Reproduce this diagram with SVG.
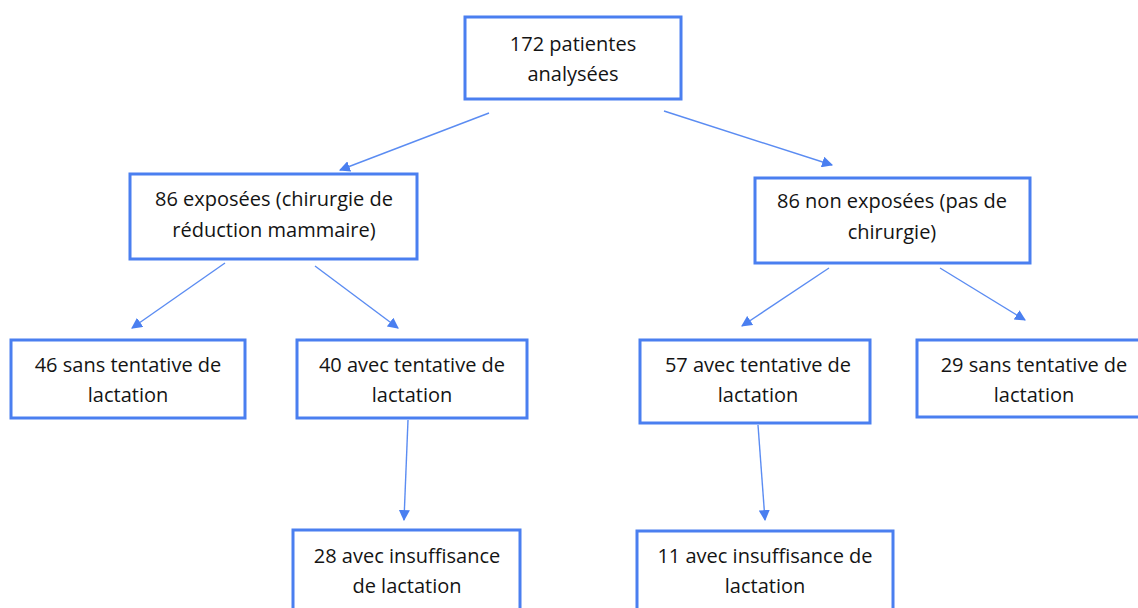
<svg xmlns="http://www.w3.org/2000/svg" width="1138" height="608" viewBox="0 0 1138 608">
<style>
.box{fill:#fff;stroke:#4a7ff0;stroke-width:3}
.t{font-family:"Open Sans","Liberation Sans",sans-serif;font-size:20px;fill:#141414;text-anchor:middle}
.c{stroke:#5b8cf2;stroke-width:1.4;fill:none;marker-end:url(#ah)}
</style>
<defs>
<marker id="ah" viewBox="0 0 10 10" refX="9" refY="5" markerWidth="11" markerHeight="11" markerUnits="userSpaceOnUse" orient="auto">
<path d="M0,0 L10,5 L0,10 z" fill="#4a7ff0"/>
</marker>
</defs>
<rect width="1138" height="608" fill="#fff"/>
<g id="connectors">
<line class="c" x1="489" y1="113" x2="340" y2="170"/>
<line class="c" x1="664" y1="111" x2="832" y2="165"/>
<line class="c" x1="225" y1="263" x2="132" y2="328"/>
<line class="c" x1="315" y1="266" x2="398" y2="328"/>
<line class="c" x1="829" y1="268" x2="742" y2="326"/>
<line class="c" x1="940" y1="268" x2="1025" y2="320"/>
<line class="c" x1="408" y1="420" x2="404" y2="520"/>
<line class="c" x1="758" y1="425" x2="765" y2="520"/>
</g>
<g id="n-total"><rect class="box" x="465" y="17" width="216" height="82"/><text class="t" x="573" y="51">172 patientes</text><text class="t" x="573" y="81">analysées</text></g>
<g id="n-exp"><rect class="box" x="130" y="174" width="287" height="85"/><text class="t" x="274" y="206">86 exposées (chirurgie de</text><text class="t" x="274" y="237">réduction mammaire)</text></g>
<g id="n-nonexp"><rect class="box" x="755" y="178" width="275" height="85"/><text class="t" x="892" y="208">86 non exposées (pas de</text><text class="t" x="892" y="239">chirurgie)</text></g>
<g id="n-46"><rect class="box" x="11" y="340" width="234" height="78"/><text class="t" x="128" y="372">46 sans tentative de</text><text class="t" x="128" y="402">lactation</text></g>
<g id="n-40"><rect class="box" x="297" y="340" width="230" height="78"/><text class="t" x="412" y="372">40 avec tentative de</text><text class="t" x="412" y="402">lactation</text></g>
<g id="n-57"><rect class="box" x="640" y="340" width="230" height="83"/><text class="t" x="758" y="372">57 avec tentative de</text><text class="t" x="758" y="402">lactation</text></g>
<g id="n-29"><rect class="box" x="917" y="340" width="225" height="77"/><text class="t" x="1034" y="372">29 sans tentative de</text><text class="t" x="1034" y="402">lactation</text></g>
<g id="n-28"><rect class="box" x="293" y="530" width="227" height="85"/><text class="t" x="407" y="563">28 avec insuffisance</text><text class="t" x="407" y="593">de lactation</text></g>
<g id="n-11"><rect class="box" x="637" y="531" width="256" height="85"/><text class="t" x="765" y="563">11 avec insuffisance de</text><text class="t" x="765" y="593">lactation</text></g>
</svg>
